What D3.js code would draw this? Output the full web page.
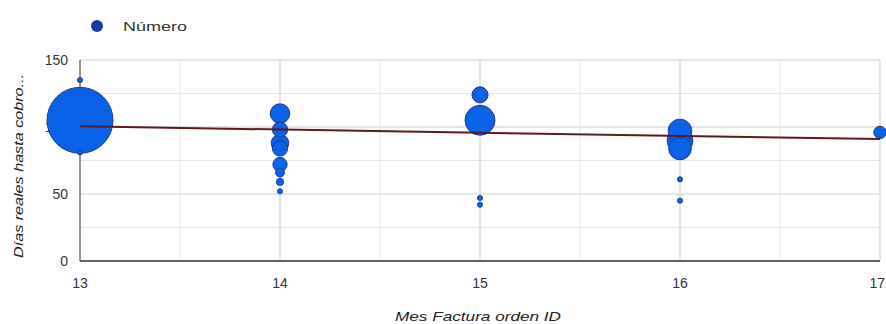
<!DOCTYPE html>
<html>
<head>
<meta charset="utf-8">
<script src="https://cdn.jsdelivr.net/npm/d3@7"></script>
<style>
  body { margin: 0; background: #fff; }
  svg { display: block; font-family: "Liberation Sans", Arial, sans-serif; }
</style>
</head>
<body>
<svg id="chart" width="886" height="324"></svg>
<script>
// Invoice month (x), real days until payment (y), and bubble size (number of invoices)
const months = [13, 13, 13, 14, 14, 14, 14, 14, 14, 14, 14, 15, 15, 15, 15, 16, 16, 16, 16, 16, 17];
const days   = [105, 135, 81, 110, 98, 88, 84, 72, 66, 59, 52, 124, 105, 47, 42, 97, 90, 84, 61, 45, 96];
const counts = [170, 1, 1, 15, 9, 12, 9, 8, 3, 2, 1, 10, 35, 1, 1, 22, 26, 20, 1, 1, 6];

const xTicks = [13, 14, 15, 16, 17];
const yTicks = [0, 50, 100, 150];
const trendEnds = [100.5, 91];   // linear trend at months 13 and 17

const svg = d3.select("#chart");
const plotL = 80, plotR = 880, plotT = 60, plotB = 261;

const x = d3.scaleLinear().domain([13, 17]).range([plotL, plotR]);
const y = d3.scaleLinear().domain([0, 150]).range([plotB, plotT]);
const r = d3.scaleSqrt().domain([0, 170]).range([0, 33]);

// gridlines (major + minor)
const grid = svg.append("g");
d3.range(0, 151, 25).forEach(v => {
  grid.append("line").attr("x1", plotL).attr("x2", plotR)
    .attr("y1", y(v)).attr("y2", y(v))
    .attr("stroke", v % 50 === 0 ? "#cccccc" : "#e6e6e6").attr("stroke-width", 1);
});
d3.range(13, 17.01, 0.5).forEach(v => {
  grid.append("line").attr("x1", x(v)).attr("x2", x(v))
    .attr("y1", plotT).attr("y2", plotB)
    .attr("stroke", v % 1 === 0 ? "#cccccc" : "#e6e6e6").attr("stroke-width", 1);
});
// left edge and baseline
svg.append("line").attr("x1", plotL).attr("x2", plotL).attr("y1", plotT).attr("y2", plotB)
  .attr("stroke", "#444").attr("stroke-width", 1);
svg.append("line").attr("x1", plotL).attr("x2", plotR).attr("y1", y(0)).attr("y2", y(0))
  .attr("stroke", "#333").attr("stroke-width", 1.5);

// y tick labels
svg.append("g").selectAll("text").data(yTicks).join("text")
  .attr("x", plotL - 12).attr("y", d => y(d)).attr("dy", "0.35em")
  .attr("text-anchor", "end").attr("font-size", 14).attr("fill", "#333")
  .text(d => d);

// x tick labels (the last one is kept inside the frame)
const lastTick = xTicks[xTicks.length - 1];
svg.append("g").selectAll("text").data(xTicks).join("text")
  .attr("x", d => d === lastTick ? 885 : x(d)).attr("y", plotB + 27)
  .attr("text-anchor", d => d === lastTick ? "end" : "middle")
  .attr("font-size", 14).attr("fill", "#333")
  .text(d => d);

// axis titles
svg.append("text").attr("x", 478).attr("y", 321)
  .attr("text-anchor", "middle").attr("font-size", 13).attr("font-style", "italic")
  .attr("textLength", 166).attr("lengthAdjust", "spacingAndGlyphs")
  .attr("fill", "#222").text("Mes Factura orden ID");
svg.append("text").attr("transform", "translate(23,166) rotate(-90)")
  .attr("text-anchor", "middle").attr("font-size", 13).attr("font-style", "italic")
  .attr("textLength", 184).attr("lengthAdjust", "spacingAndGlyphs")
  .attr("fill", "#222").text("Días reales hasta cobro...");

// bubbles, largest first so small ones stay on top
const pts = months.map((m, i) => ({ m, d: days[i], c: counts[i] }))
  .sort((a, b) => b.c - a.c);
svg.append("g").selectAll("circle").data(pts).join("circle")
  .attr("cx", d => x(d.m)).attr("cy", d => y(d.d))
  .attr("r", d => r(d.c))
  .attr("fill", "#0a62e8")
  .attr("stroke", "#1c3a8c").attr("stroke-width", 1);

// trend line
svg.append("line")
  .attr("x1", x(13)).attr("y1", y(trendEnds[0]))
  .attr("x2", x(17)).attr("y2", y(trendEnds[1]))
  .attr("stroke", "#5e1a1a").attr("stroke-width", 2);

// legend
svg.append("circle").attr("cx", 97).attr("cy", 26).attr("r", 6)
  .attr("fill", "#1a3aa8");
svg.append("text").attr("x", 123).attr("y", 26).attr("dy", "0.35em")
  .attr("font-size", 13).attr("textLength", 64).attr("lengthAdjust", "spacingAndGlyphs")
  .attr("fill", "#333").text("Número");
</script>
</body>
</html>
